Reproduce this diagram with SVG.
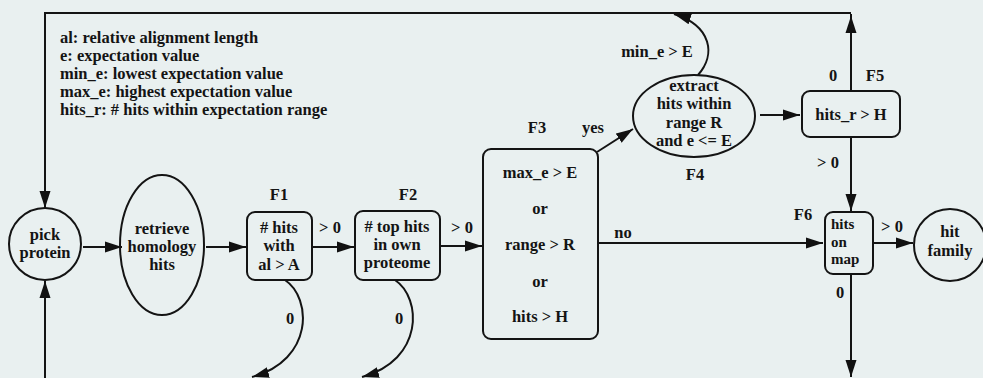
<svg xmlns="http://www.w3.org/2000/svg" width="983" height="378" viewBox="0 0 983 378">
<defs>
<marker id="ah" markerUnits="userSpaceOnUse" markerWidth="18" markerHeight="12" refX="17" refY="6" orient="auto">
<path d="M0,0.5 L17,6 L0,11.5 Z" fill="#111"/>
</marker>
<style>
.t{font-family:"Liberation Serif","Times New Roman",serif;font-weight:bold;font-size:16.5px;fill:#141414}
.t.s{font-size:15px}
.c{text-anchor:middle}
.n{fill:none;stroke:#141414;stroke-width:2}
.e{fill:none;stroke:#141414;stroke-width:2;marker-end:url(#ah)}
.l{fill:none;stroke:#141414;stroke-width:2}
</style>
</defs>
<rect width="983" height="378" fill="#e9f0f0"/>
<g id="legend">
<text class="t" x="60" y="43">al: relative alignment length</text>
<text class="t" x="60" y="61">e: expectation value</text>
<text class="t" x="60" y="79">min_e: lowest expectation value</text>
<text class="t" x="60" y="97">max_e: highest expectation value</text>
<text class="t" x="60" y="115">hits_r: # hits within expectation range</text>
</g>
<g id="connectors">
<path class="l" d="M851,91 V14"/>
<path class="e" d="M851,60 V16"/>
<path class="e" d="M851,13 H45 V208"/>
<path class="e" d="M45,378 V281"/>
<path class="e" d="M83,247 H122"/>
<path class="e" d="M206,247 H246"/>
<path class="e" d="M312,247 H354"/>
<path class="e" d="M440,246 H482"/>
<path class="e" d="M597,152 L633,129"/>
<path class="e" d="M598,243 H823"/>
<path class="e" d="M760,115 H800"/>
<path class="e" d="M851,137 V211"/>
<path class="e" d="M873,243 H913"/>
<path class="e" d="M851,274 V377"/>
<path class="e" d="M698,75 C716,55 712,26 674,14"/>
<path class="e" d="M285,280 C312,298 314,360 252,377"/>
<path class="e" d="M395,280 C422,298 424,360 362,377"/>
<text class="t c" x="330" y="233">&gt; 0</text>
<text class="t c" x="462" y="233">&gt; 0</text>
<text class="t c" x="593" y="133">yes</text>
<text class="t c" x="623" y="238">no</text>
<text class="t c" x="657" y="57">min_e &gt; E</text>
<text class="t c" x="833" y="81">0</text>
<text class="t c" x="828" y="168">&gt; 0</text>
<text class="t c" x="892" y="232">&gt; 0</text>
<text class="t c" x="840" y="298">0</text>
<text class="t c" x="290" y="324">0</text>
<text class="t c" x="399" y="324">0</text>
</g>
<g id="pick">
<circle class="n" cx="45" cy="244" r="36"/>
<text class="t c" x="45" y="240">pick</text>
<text class="t c" x="45" y="258">protein</text>
</g>
<g id="retrieve">
<ellipse class="n" cx="162" cy="245" rx="42" ry="70"/>
<text class="t c" x="162" y="234">retrieve</text>
<text class="t c" x="162" y="252">homology</text>
<text class="t c" x="162" y="270">hits</text>
</g>
<g id="F1">
<rect class="n" x="247" y="212" width="65" height="68" rx="8"/>
<text class="t c" x="279" y="200">F1</text>
<text class="t c" x="279" y="233">#&#160;hits</text>
<text class="t c" x="279" y="251">with</text>
<text class="t c" x="279" y="270">al &gt; A</text>
</g>
<g id="F2">
<rect class="n" x="355" y="211" width="85" height="69" rx="8"/>
<text class="t c" x="408" y="200">F2</text>
<text class="t c" x="397" y="232">#&#160;top hits</text>
<text class="t c" x="397" y="250">in own</text>
<text class="t c" x="397" y="268">proteome</text>
</g>
<g id="F3">
<rect class="n" x="483" y="149" width="115" height="190" rx="8"/>
<text class="t c" x="537" y="133">F3</text>
<text class="t c" x="540" y="178">max_e &gt; E</text>
<text class="t c" x="540" y="214">or</text>
<text class="t c" x="540" y="250">range &gt; R</text>
<text class="t c" x="540" y="287">or</text>
<text class="t c" x="540" y="322">hits &gt; H</text>
</g>
<g id="F4">
<ellipse class="n" cx="694" cy="116" rx="61" ry="41"/>
<text class="t c" x="694" y="91">extract</text>
<text class="t c" x="694" y="109">hits within</text>
<text class="t c" x="694" y="128">range R</text>
<text class="t c" x="694" y="146">and e &lt;= E</text>
<text class="t c" x="695" y="180">F4</text>
</g>
<g id="F5">
<rect class="n" x="802" y="91" width="98" height="46" rx="8"/>
<text class="t c" x="851" y="120">hits_r &gt; H</text>
<text class="t c" x="875" y="81">F5</text>
</g>
<g id="F6">
<rect class="n" x="825" y="212" width="48" height="62" rx="8"/>
<text class="t s" x="831" y="229">hits</text>
<text class="t s" x="831" y="246.5">on</text>
<text class="t s" x="831" y="264">map</text>
<text class="t c" x="803" y="220">F6</text>
</g>
<g id="hitfamily">
<circle class="n" cx="950" cy="245" r="36"/>
<text class="t c" x="950" y="237">hit</text>
<text class="t c" x="950" y="256">family</text>
</g>
</svg>
